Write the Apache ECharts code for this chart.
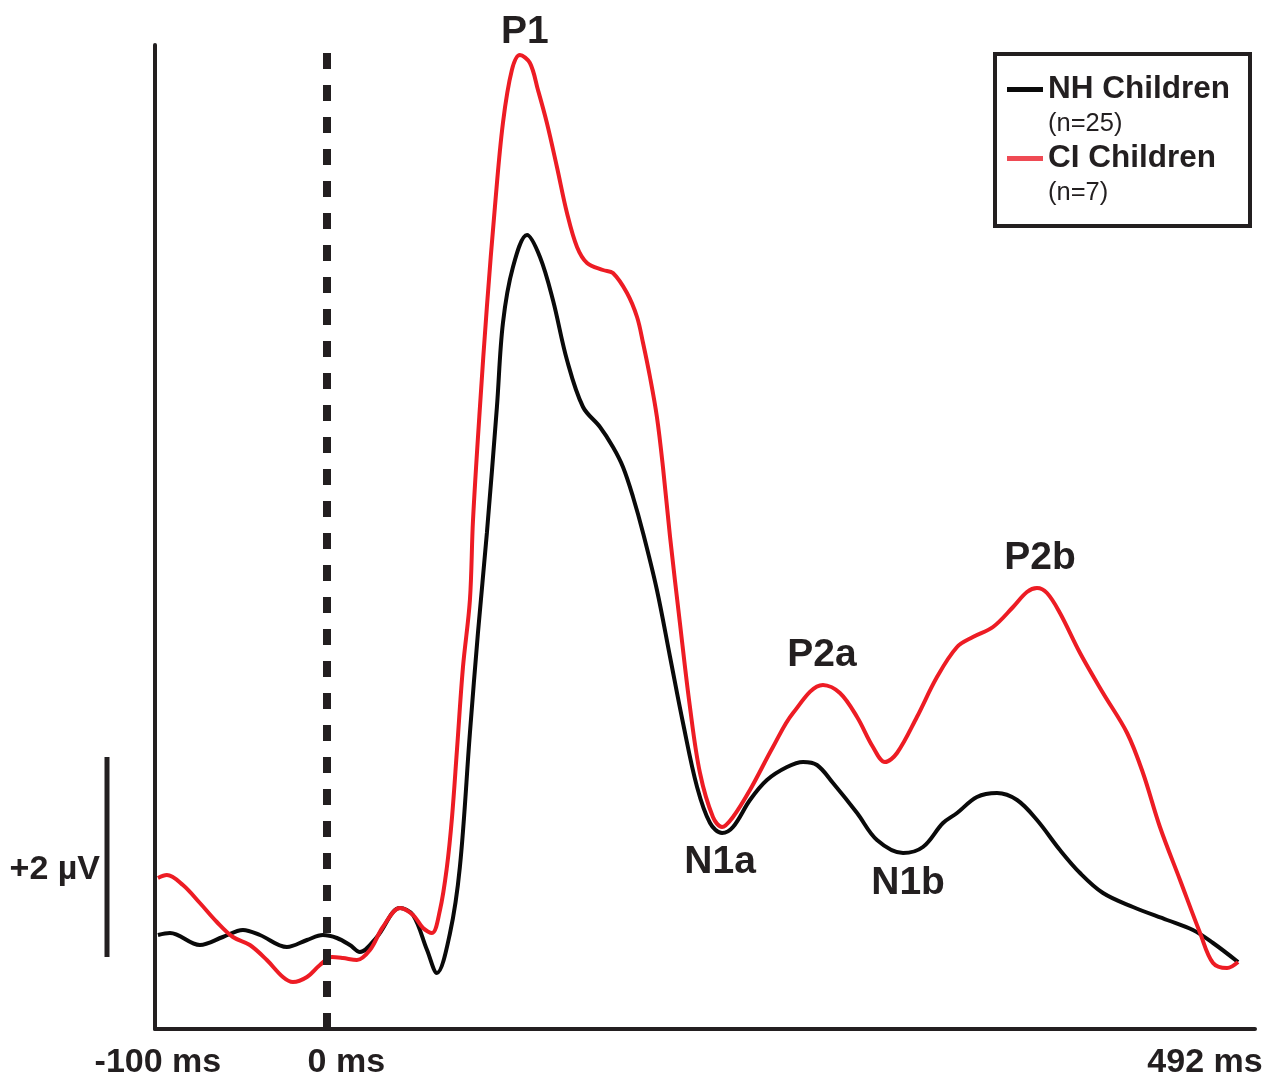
<!DOCTYPE html>
<html>
<head>
<meta charset="utf-8">
<script src="https://cdn.jsdelivr.net/npm/echarts@6/dist/echarts.min.js"></script>
<style>
  html, body { margin: 0; padding: 0; background: #ffffff; }
  #chart { width: 1267px; height: 1080px; }
</style>
</head>
<body>
<div id="chart"></div>
<script>
// ---- Data (time in ms, amplitude in µV) ----
const nhName = 'NH Children';
const ciName = 'CI Children';
const nhGroupSize = '(n=25)';
const ciGroupSize = '(n=7)';

const nhTime = [-100,-93.4,-77.0,-64.4,-53.4,-44.1,-29.3,-18.3,-9.6,-1.9,5.2,10.7,20.0,32.7,39.8,47.5,52.9,60.1,65.5,71.0,75.4,80.3,85.8,89.1,94.6,102.3,109.4,116.5,124.2,133.0,142.3,149.4,154.9,160.4,165.9,173.5,180.7,187.8,195.5,202.6,209.2,215.2,224.5,233.8,244.8,253.6,261.2,270.0,283.2,294.1,308.4,319.3,330.3,338.0,348.9,359.9,370.9,381.8,394.4,405.4,418.0,434.4,453.1,467.3,478.3,492.0];
const nhAmp  = [0.05,0.07,-0.05,0.03,0.10,0.05,-0.07,0.00,0.05,0.02,-0.05,-0.12,0.03,0.32,0.25,-0.10,-0.33,0.07,0.73,2.07,3.07,4.07,5.33,6.17,6.73,7.05,6.83,6.40,5.80,5.33,5.13,4.93,4.73,4.43,4.07,3.50,2.83,2.17,1.53,1.17,1.07,1.13,1.40,1.60,1.73,1.78,1.75,1.57,1.27,1.00,0.87,0.93,1.17,1.27,1.43,1.47,1.40,1.20,0.90,0.67,0.47,0.33,0.20,0.10,-0.03,-0.22];

const ciTime = [-100,-95.1,-86.3,-77.0,-67.7,-58.9,-49.6,-40.3,-31.5,-26.0,-18.3,-11.2,-4.6,1.4,9.1,16.2,23.3,32.7,39.8,45.3,50.2,54.6,58.4,61.2,63.9,67.2,71.0,72.7,76.5,80.3,84.7,89.1,94.0,98.4,103.9,108.3,113.2,118.7,124.2,129.7,135.2,143.9,149.4,157.1,162.6,165.9,169.7,173.5,176.8,180.7,186.1,191.6,197.1,204.2,209.2,215.2,224.5,237.1,248.1,264.5,273.8,283.2,291.9,298.5,305.1,316.0,327.0,338.0,346.7,357.7,368.7,376.3,381.8,387.3,394.4,405.4,418.0,431.2,439.9,449.2,460.2,471.2,478.3,486.0,492.0];
const ciAmp  = [0.62,0.65,0.55,0.37,0.18,0.03,-0.05,-0.20,-0.37,-0.42,-0.37,-0.25,-0.17,-0.18,-0.20,-0.10,0.13,0.32,0.25,0.12,0.07,0.30,0.73,1.23,1.90,2.73,3.40,4.20,5.33,6.33,7.33,8.17,8.70,8.85,8.77,8.50,8.17,7.73,7.27,6.93,6.77,6.70,6.67,6.47,6.23,5.97,5.63,5.23,4.73,4.03,3.17,2.33,1.67,1.23,1.13,1.23,1.50,1.93,2.27,2.55,2.47,2.23,1.93,1.78,1.87,2.23,2.63,2.93,3.03,3.13,3.33,3.48,3.52,3.47,3.27,2.87,2.47,2.07,1.67,1.13,0.60,0.07,-0.23,-0.28,-0.22];

// tick labels on the time axis
const tickValues = [-100, 0, 492];
const tickUnit = ' ms';

// stimulus onset dashed marker (as placed in the figure)
const onsetMarkerMs = -7.4;

// component peak labels
const peakNames  = ['P1', 'P2a', 'P2b', 'N1a', 'N1b'];
const peakTimes  = [98.4, 264.5, 381.8, 209.2, 308.4];
const peakAmps   = [8.85, 2.55, 3.52, 1.07, 0.87];
const peakSeries = ['ci', 'ci', 'ci', 'nh', 'nh'];
const peakOffsets = [[5,-23],[-1,-30],[3,-30],[-2,29],[5,30]];

// voltage scale bar
const scaleBarBase = -0.17;
const scaleBarSize = 2;
const scaleBarLabel = '+2 µV';

// ---- Chart ----
const FONT = '"Liberation Sans", Arial, Helvetica, sans-serif';
const INK = '#231f20';
const RED = '#ed1c24';
const LEGEND_RED = '#ef4a54';

const zip = (t, a) => t.map((v, i) => [v, a[i]]);

function peakMarks(key) {
  const out = [];
  peakNames.forEach((n, i) => {
    if (peakSeries[i] !== key) return;
    out.push({
      name: n,
      coord: [peakTimes[i], peakAmps[i]],
      label: { show: true, formatter: n, offset: peakOffsets[i] }
    });
  });
  return out;
}

const markPointBase = {
  symbol: 'circle',
  symbolSize: 1,
  silent: true,
  itemStyle: { color: 'rgba(0,0,0,0)' },
  label: {
    show: true, position: 'inside',
    fontFamily: FONT, fontWeight: 'bold', fontSize: 39, color: INK
  }
};

const chart = echarts.init(document.getElementById('chart'), null, { renderer: 'canvas' });

const lastTick = tickValues[tickValues.length - 1];

const option = {
  animation: false,
  backgroundColor: '#ffffff',
  grid: { left: 155, right: 12, top: 45, bottom: 51, containLabel: false },
  xAxis: {
    type: 'value',
    min: -101.6,
    max: 501.3,
    axisLine: { show: true, onZero: false, lineStyle: { color: INK, width: 4 } },
    axisTick: { show: false },
    splitLine: { show: false },
    axisLabel: {
      show: true,
      customValues: tickValues,
      margin: 17,
      formatter: v => (v === lastTick ? '{r|' : (v === 0 ? '{z|' : '{n|')) + v + tickUnit + '}',
      rich: {
        n: { fontFamily: FONT, fontWeight: 'bold', fontSize: 34, color: INK },
        z: { fontFamily: FONT, fontWeight: 'bold', fontSize: 34, color: INK, padding: [0, 0, 0, 12] },
        r: { fontFamily: FONT, fontWeight: 'bold', fontSize: 34, color: INK, padding: [0, 66, 0, 0] }
      }
    }
  },
  yAxis: {
    type: 'value',
    min: -0.89,
    max: 8.95,
    axisLine: { show: true, onZero: false, lineStyle: { color: INK, width: 4 } },
    axisTick: { show: false },
    axisLabel: { show: false },
    splitLine: { show: false }
  },
  legend: {
    orient: 'vertical',
    left: 995,
    top: 54,
    data: [
      { name: nhName },
      { name: ciName, itemStyle: { color: LEGEND_RED } }
    ],
    borderColor: INK,
    borderWidth: 4,
    padding: [19, 20, 20, 12],
    itemWidth: 36,
    itemHeight: 40,
    itemGap: 5,
    selectedMode: false,
    icon: 'path://M0,0H0.01V0.01H0Z M0,1H36V6H0Z M0,40H0.01V40.01H0Z',
    formatter: name => '{a|' + name + '}\n{b|' + (name === nhName ? nhGroupSize : ciGroupSize) + '}',
    textStyle: {
      rich: {
        a: { fontFamily: FONT, fontWeight: 'bold', fontSize: 31.5, lineHeight: 36, color: INK },
        b: { fontFamily: FONT, fontWeight: 'normal', fontSize: 25.5, lineHeight: 34, color: INK }
      }
    }
  },
  series: [
    {
      name: nhName,
      type: 'line',
      data: zip(nhTime, nhAmp),
      showSymbol: false,
      smooth: 0.35,
      color: '#0a0a0a',
      lineStyle: { width: 4, color: '#0a0a0a' },
      z: 2,
      markLine: {
        silent: true,
        symbol: ['none', 'none'],
        label: { show: false },
        lineStyle: { color: INK, width: 8, type: [16, 16] },
        data: [{ xAxis: onsetMarkerMs }]
      },
      markPoint: Object.assign({}, markPointBase, { data: peakMarks('nh') })
    },
    {
      name: ciName,
      type: 'line',
      data: zip(ciTime, ciAmp),
      showSymbol: false,
      smooth: 0.35,
      color: RED,
      lineStyle: { width: 4, color: RED },
      z: 3,
      markPoint: Object.assign({}, markPointBase, { data: peakMarks('ci') })
    }
  ]
};

chart.setOption(option);

// scale bar (outside the plotting area) positioned from the y scale
const yTop = chart.convertToPixel({ yAxisIndex: 0 }, scaleBarBase + scaleBarSize);
const yBot = chart.convertToPixel({ yAxisIndex: 0 }, scaleBarBase);
chart.setOption({
  graphic: [
    {
      type: 'line',
      shape: { x1: 107, y1: yTop, x2: 107, y2: yBot },
      style: { stroke: INK, lineWidth: 5 }
    },
    {
      type: 'text',
      x: 100,
      y: (yTop + yBot) / 2 + 13,
      style: {
        text: scaleBarLabel,
        fill: INK,
        font: 'bold 34px ' + FONT,
        textAlign: 'right',
        textVerticalAlign: 'middle'
      }
    }
  ]
});
</script>
</body>
</html>
